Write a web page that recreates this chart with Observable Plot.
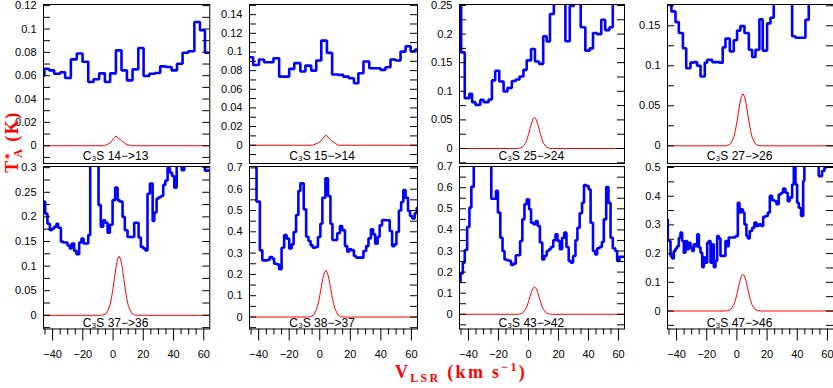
<!DOCTYPE html>
<html><head><meta charset="utf-8">
<script src="https://cdn.jsdelivr.net/npm/d3@7"></script>
<script src="https://cdn.jsdelivr.net/npm/@observablehq/plot@0.6"></script>
<style>
body{margin:0;background:#fff;}
#fig{position:relative;width:833px;height:388px;overflow:hidden;font-family:"Liberation Sans",Arial,sans-serif;background:#fff;}
.panel{position:absolute;}
.panel svg{overflow:visible;max-width:none;}
</style></head><body><div id="fig"></div>
<script>
// ---------- data ----------
const labels = ["C₃S 14−>13","C₃S 15−>14","C₃S 25−>24","C₃S 27−>26","C₃S 37−>36","C₃S 38−>37","C₃S 43−>42","C₃S 47−>46"];
const xTickLabels = [-40,-20,0,20,40,60];
const xMinorTicks = [-45,-35,-30,-25,-15,-10,-5,5,10,15,25,30,35,45,50,55];

// observed spectra (channel left edges, T*A in K)
const p1V = [-46,-45.4,-42.3,-39,-35,-31.7,-27.9,-24,-20.2,-16.4,-12.9,-9.2,-5.4,-1.9,1.9,5.6,9.2,12.9,16.7,20.2,24,27.7,31.2,35,38.7,42.3,46,49.8,53.8,57.5,60.8,64];
const p1T = [0.060,0.066,0.0646,0.0617,0.063,0.058,0.074,0.079,0.072,0.0546,0.057,0.062,0.0546,0.062,0.0817,0.0646,0.056,0.0654,0.0837,0.0597,0.0617,0.0623,0.068,0.0674,0.0646,0.0703,0.0797,0.081,0.106,0.099,0.0797,0.0797];
const p2V = [-46,-43.6,-39.8,-36.5,-30.3,-26.6,-20.0,-16.7,-12.7,-9.4,-5.6,-2.3,1.0,4.7,8.1,12.0,15.4,19.1,22.4,25.3,28.6,32.4,36.3,39.7,43.0,46.3,49.6,52.9,56.2,59.5,62.4,64];
const p2T = [0.0944,0.086,0.0919,0.089,0.0933,0.0736,0.0819,0.088,0.079,0.0854,0.08,0.0908,0.1122,0.099,0.0758,0.0754,0.0736,0.0718,0.0665,0.0772,0.0897,0.0826,0.0826,0.0808,0.0836,0.0919,0.0908,0.1004,0.1062,0.1008,0.1026,0.1026];
const p3V = [-46,-44.9,-42.5,-39.4,-37.6,-35.4,-32.1,-29.9,-26.6,-24.4,-22.2,-19.5,-16.6,-14.0,-11.1,-8.5,-6.0,-3.4,-1.2,1.7,4.3,7.0,9.8,12.1,14.3,16.9,24.6,27.5,30.2,34.8,37.9,40.8,43.0,45.6,48.5,51.1,54.0,56.2,64];
const p3T = [0.3,0.168,0.088,0.0956,0.081,0.0763,0.085,0.081,0.0857,0.119,0.136,0.117,0.0997,0.106,0.118,0.1206,0.1259,0.1375,0.154,0.174,0.152,0.148,0.196,0.187,0.235,0.3,0.1876,0.249,0.3,0.212,0.171,0.175,0.202,0.2,0.225,0.207,0.212,0.3,0.3];
const p4V = [-46,-43.4,-40.7,-38.5,-35.8,-33.6,-30.8,-28.6,-26.4,-24.1,-21.3,-19.7,-16.4,-11.6,-9.4,-7.6,-4.7,-2.1,0.1,2.3,5.0,7.9,10.1,12.3,14.9,17.1,20.0,22.2,24.4,27.1,36.6,38.8,45.4,47.6,64];
const p4T = [0.2,0.168,0.1546,0.141,0.122,0.097,0.104,0.1046,0.1,0.0867,0.104,0.1075,0.1046,0.104,0.123,0.134,0.118,0.132,0.144,0.1496,0.141,0.12,0.111,0.12,0.158,0.119,0.153,0.16,0.1775,0.2,0.137,0.135,0.1575,0.2,0.2];
const p5V = [-46,-44.9,-43.4,-41.8,-40.5,-39.0,-37.4,-36.3,-34.5,-33.0,-30.1,-28.6,-27.3,-25.7,-24.2,-22.4,-20.9,-19.5,-16.4,-15.1,-9.6,-8.1,-6.5,-5.2,-3.6,-2.1,-0.3,1.4,3.0,4.5,6.3,7.8,9.6,11.1,14.0,16.9,18.4,20.0,21.3,22.8,24.4,26.2,27.3,28.8,30.1,31.7,33.2,34.6,36.1,37.6,39.0,40.5,42.1,43.8,45.4,47.1,60.8,64];
const p5T = [0.231,0.2066,0.186,0.173,0.176,0.18,0.186,0.178,0.1497,0.148,0.142,0.136,0.146,0.131,0.124,0.148,0.156,0.146,0.163,0.35,0.224,0.18,0.193,0.188,0.168,0.184,0.234,0.2595,0.234,0.231,0.2,0.173,0.159,0.159,0.188,0.158,0.139,0.136,0.132,0.247,0.268,0.192,0.209,0.237,0.24,0.2425,0.265,0.274,0.3,0.29,0.283,0.2595,0.307,0.35,0.295,0.35,0.294,0.294];
const p6V = [-46,-41.4,-39.2,-37.6,-34.3,-32.8,-31.0,-29.9,-28.1,-26.6,-25.0,-23.3,-21.7,-20.0,-18.4,-17.1,-15.5,-14.0,-12.7,-10.5,-8.9,-7.4,-6.0,-4.5,-2.7,-1.2,0.4,1.7,3.7,5.4,7.0,8.3,9.9,11.4,13.2,14.7,16.5,18.0,19.3,20.9,22.4,23.8,28.6,30.4,31.9,33.5,35.0,36.3,37.9,39.2,40.8,42.3,45.8,47.4,48.9,50.2,51.8,53.3,54.7,56.2,57.8,59.1,60.6,62.2,63.5,64];
const p6T = [0.8,0.5415,0.313,0.266,0.2676,0.2817,0.274,0.25,0.247,0.224,0.3255,0.385,0.368,0.322,0.341,0.399,0.479,0.5915,0.6275,0.5055,0.377,0.357,0.3365,0.3255,0.329,0.3756,0.438,0.56,0.651,0.568,0.438,0.3615,0.3615,0.393,0.427,0.408,0.333,0.3067,0.318,0.313,0.2864,0.2786,0.31,0.333,0.369,0.4115,0.388,0.344,0.3756,0.43,0.455,0.454,0.404,0.333,0.341,0.399,0.5,0.54,0.596,0.56,0.4977,0.474,0.463,0.487,0.513,0.513];
const p7V = [-46,-45.3,-43.8,-42.5,-40.9,-39.4,-38.1,-36.5,-35.0,-24.8,-23.3,-21.7,-20.4,-18.8,-17.3,-16.0,-14.4,-12.9,-11.6,-10.0,-8.5,-7.1,-5.6,-4.1,-2.7,-1.2,0.4,1.7,3.2,4.8,6.1,7.6,9.2,10.5,12.1,13.6,14.9,16.5,18.0,19.3,20.9,22.4,23.8,25.3,26.8,28.2,29.7,31.3,32.6,34.1,35.7,37.0,38.5,40.1,41.4,43.0,44.5,45.8,47.4,48.9,50.2,51.8,53.3,54.7,56.2,57.8,59.1,60.6,62.2,64];
const p7T = [0.153,0.193,0.245,0.305,0.414,0.5055,0.605,0.71,0.8,0.548,0.548,0.585,0.482,0.363,0.3,0.26,0.256,0.253,0.234,0.24,0.28,0.28,0.3476,0.45,0.521,0.545,0.4976,0.434,0.4265,0.442,0.4186,0.34,0.26,0.276,0.3,0.308,0.319,0.351,0.379,0.348,0.308,0.363,0.387,0.319,0.253,0.245,0.276,0.351,0.41,0.479,0.529,0.613,0.608,0.592,0.434,0.3,0.284,0.313,0.319,0.343,0.45,0.603,0.529,0.363,0.313,0.3,0.253,0.273,0.273,0.273];
const p8V = [-46,-45.8,-45.1,-44.0,-42.9,-41.8,-40.7,-39.6,-38.5,-37.4,-36.3,-35.2,-34.1,-33.0,-31.9,-30.8,-29.7,-28.6,-27.5,-26.3,-25.2,-24.1,-23.0,-21.9,-20.8,-19.7,-18.6,-17.5,-16.4,-15.3,-14.2,-13.1,-12.0,-10.9,-7.6,-6.5,-5.4,-1.0,0.6,1.7,2.8,3.9,5.0,6.3,7.4,8.5,10.1,11.6,13.0,14.5,16.0,17.4,18.9,20.5,21.8,23.3,24.9,26.2,27.7,29.3,30.6,32.1,33.7,35.0,36.6,37.7,38.8,39.9,41.0,42.5,43.9,44.7,54.2,56.4,58.0,59.3,64];
const p8T = [0.319,0.246,0.244,0.192,0.183,0.209,0.218,0.226,0.255,0.273,0.244,0.203,0.244,0.215,0.238,0.221,0.209,0.232,0.226,0.267,0.221,0.203,0.153,0.186,0.168,0.238,0.244,0.168,0.232,0.153,0.174,0.261,0.253,0.192,0.244,0.226,0.256,0.261,0.377,0.343,0.354,0.343,0.302,0.261,0.253,0.279,0.29,0.308,0.296,0.302,0.296,0.328,0.331,0.343,0.401,0.386,0.383,0.372,0.406,0.412,0.427,0.412,0.383,0.395,0.441,0.6,0.441,0.377,0.36,0.331,0.453,0.6,0.47,0.488,0.5,0.6,0.6];

// model line profiles (red)
const m1V = [-46,-5.8,-1.9,1.9,5.6,9.2,12.9,64];
const m1T = [0,0,0.0023,0.0083,0.0043,0.0009,0,0];
const m2V = [-46,-4.5,-0.1,3.9,8.1,12,64];
const m2T = [0,0,0.0032,0.011,0.0043,0,0];
const mV = [-46,-8,-6,-4,-2,-1,0,1,2,3,4,5,6,7,8,9,10,12,14,16,64];
const m3T = [0,0,0.0004,0.0024,0.0093,0.0159,0.0247,0.0348,0.0444,0.0514,0.054,0.0514,0.0444,0.0348,0.0247,0.0159,0.0093,0.0024,0.0004,0,0];
const m4T = [0,0,0.0005,0.0029,0.0112,0.0192,0.0298,0.0419,0.0535,0.0619,0.065,0.0619,0.0535,0.0419,0.0298,0.0192,0.0112,0.0029,0.0005,0,0];
const m5T = [0,0,0.001,0.0053,0.0208,0.0354,0.055,0.0774,0.0988,0.1142,0.12,0.1142,0.0988,0.0774,0.055,0.0354,0.0208,0.0053,0.001,0,0];
const m6T = [0,0,0.0017,0.0096,0.0377,0.0643,0.0998,0.1406,0.1794,0.2075,0.218,0.2075,0.1794,0.1406,0.0998,0.0643,0.0377,0.0096,0.0017,0,0];
const m7T = [0,0,0.001,0.0057,0.0225,0.0384,0.0595,0.0839,0.107,0.1238,0.13,0.1238,0.107,0.0839,0.0595,0.0384,0.0225,0.0057,0.001,0,0];
const m8T = [0,0,0.001,0.0056,0.0221,0.0378,0.0586,0.0826,0.1053,0.1219,0.128,0.1219,0.1053,0.0826,0.0586,0.0378,0.0221,0.0056,0.001,0,0];

// y tick labels and tick marks
const p1YLabels = [0,0.02,0.04,0.06,0.08,0.1,0.12];
const p1YTicks = [-0.01,0,0.01,0.02,0.03,0.04,0.05,0.06,0.07,0.08,0.09,0.1,0.11,0.12];
const p2YLabels = [0,0.02,0.04,0.06,0.08,0.1,0.12,0.14];
const p2YTicks = [-0.01,0,0.01,0.02,0.03,0.04,0.05,0.06,0.07,0.08,0.09,0.1,0.11,0.12,0.13,0.14,0.15];
const p3YLabels = [0,0.05,0.1,0.15,0.2,0.25];
const p3YTicks = [-0.025,0,0.025,0.05,0.075,0.1,0.125,0.15,0.175,0.2,0.225,0.25];
const p4YLabels = [0,0.05,0.1,0.15];
const p4YTicks = [0,0.025,0.05,0.075,0.1,0.125,0.15,0.175];
const p5YLabels = [0,0.05,0.1,0.15,0.2,0.25,0.3];
const p5YTicks = [-0.025,0,0.025,0.05,0.075,0.1,0.125,0.15,0.175,0.2,0.225,0.25,0.275,0.3];
const p6YLabels = [0,0.1,0.2,0.3,0.4,0.5,0.6,0.7];
const p6YTicks = [-0.05,0,0.05,0.1,0.15,0.2,0.25,0.3,0.35,0.4,0.45,0.5,0.55,0.6,0.65,0.7];
const p8YLabels = [0,0.1,0.2,0.3,0.4,0.5];
const p8YTicks = [-0.05,0,0.05,0.1,0.15,0.2,0.25,0.3,0.35,0.4,0.45,0.5];

// ---------- layout ----------
const panels = [
  {V:p1V,T:p1T,mV:m1V,mT:m1T,yd:[-0.0152,0.121],yl:p1YLabels,yt:p1YTicks},
  {V:p2V,T:p2T,mV:m2V,mT:m2T,yd:[-0.0196,0.1509],yl:p2YLabels,yt:p2YTicks},
  {V:p3V,T:p3T,mV:mV,mT:m3T,yd:[-0.0262,0.2517],yl:p3YLabels,yt:p3YTicks},
  {V:p4V,T:p4T,mV:mV,mT:m4T,yd:[-0.0221,0.1766],yl:p4YLabels,yt:p4YTicks},
  {V:p5V,T:p5T,mV:mV,mT:m5T,yd:[-0.0278,0.3024],yl:p5YLabels,yt:p5YTicks},
  {V:p6V,T:p6T,mV:mV,mT:m6T,yd:[-0.0563,0.7066],yl:p6YLabels,yt:p6YTicks},
  {V:p7V,T:p7T,mV:mV,mT:m7T,yd:[-0.0697,0.7005],yl:p6YLabels,yt:p6YTicks},
  {V:p8V,T:p8T,mV:mV,mT:m8T,yd:[-0.0627,0.5035],yl:p8YLabels,yt:p8YTicks}
];
const cols = [{left:42.7,w:166.3},{left:249,w:168},{left:459,w:165},{left:666.5,w:166}];
const rows = [{top:4,h:159},{top:165.5,h:162.5}];
const ML = 45, MR = 2, MT = 2;
const fig = document.getElementById("fig");

panels.forEach((p, i) => {
  const r = i < 4 ? 0 : 1, c = i % 4;
  const col = cols[c], row = rows[r];
  const MB = r ? 45 : 2;
  const width = ML + col.w + MR, height = MT + row.h + MB;
  const marks = [
    Plot.line(p.mV, {x: p.mV, y: p.mT, stroke: "#ff0000", strokeWidth: 1, clip: true}),
    Plot.line(p.V, {x: p.V, y: p.T, curve: "step-after", stroke: "#0000ff", strokeWidth: 2.6, strokeLinejoin: "miter", clip: true}),
    Plot.tickY(p.yt, {y: d => d, stroke: "#000", strokeWidth: 1, insetRight: col.w - 7}),
    Plot.tickY(p.yt, {y: d => d, stroke: "#000", strokeWidth: 1, insetLeft: col.w - 7}),
    Plot.axisY(p.yl, {tickSize: 0, tickPadding: 7, tickFormat: d => String(d), fontSize: 11, label: null, fill: "#000"}),
    Plot.text([labels[i]], {x: -20, frameAnchor: "bottom", dy: r ? -6 : -7, lineAnchor: "middle", textAnchor: "start", fontSize: 12, fill: "#000", text: d => d, style: "letter-spacing:0.3px"}),
    Plot.frame({stroke: "#000", strokeWidth: 1})
  ];
  if (r) {
    marks.push(Plot.axisX(xMinorTicks, {tickSize: 6, tickFormat: () => "", label: null}));
    marks.push(Plot.axisX(xTickLabels, {tickSize: 12, tickPadding: 9, fontSize: 11, label: null}));
  }
  const chart = Plot.plot({
    width, height,
    marginLeft: ML, marginRight: MR, marginTop: MT, marginBottom: MB,
    style: {background: "transparent", overflow: "visible", fontFamily: "'Liberation Sans', Arial, sans-serif"},
    x: {domain: [-46, 64], axis: null},
    y: {domain: p.yd, axis: null},
    marks
  });
  const div = document.createElement("div");
  div.className = "panel";
  div.style.left = (col.left - ML) + "px";
  div.style.top = (row.top - MT) + "px";
  div.style.width = width + "px";
  div.appendChild(chart);
  fig.appendChild(div);
});

// axis titles
const ns = "http://www.w3.org/2000/svg";
const ov = document.createElementNS(ns, "svg");
ov.setAttribute("width", 833); ov.setAttribute("height", 388);
ov.style.cssText = "position:absolute;left:0;top:0;overflow:visible;pointer-events:none";
ov.innerHTML =
  '<text transform="translate(18,142) rotate(-90)" text-anchor="middle" font-family="Liberation Serif" font-weight="bold" font-size="18" letter-spacing="1.5" fill="#ff0000">T<tspan dy="-5" font-size="12">*</tspan><tspan dy="9" dx="-6" font-size="12">A</tspan><tspan dy="-4"> (K)</tspan></text>' +
  '<text x="461" y="378" text-anchor="middle" font-family="Liberation Serif" font-weight="bold" font-size="18" letter-spacing="2.3" fill="#ff0000">V<tspan font-size="12" dy="4">LSR</tspan><tspan dy="-4"> (km s</tspan><tspan font-size="12" dy="-7">−1</tspan><tspan dy="7">)</tspan></text>';
fig.appendChild(ov);
</script></body></html>
